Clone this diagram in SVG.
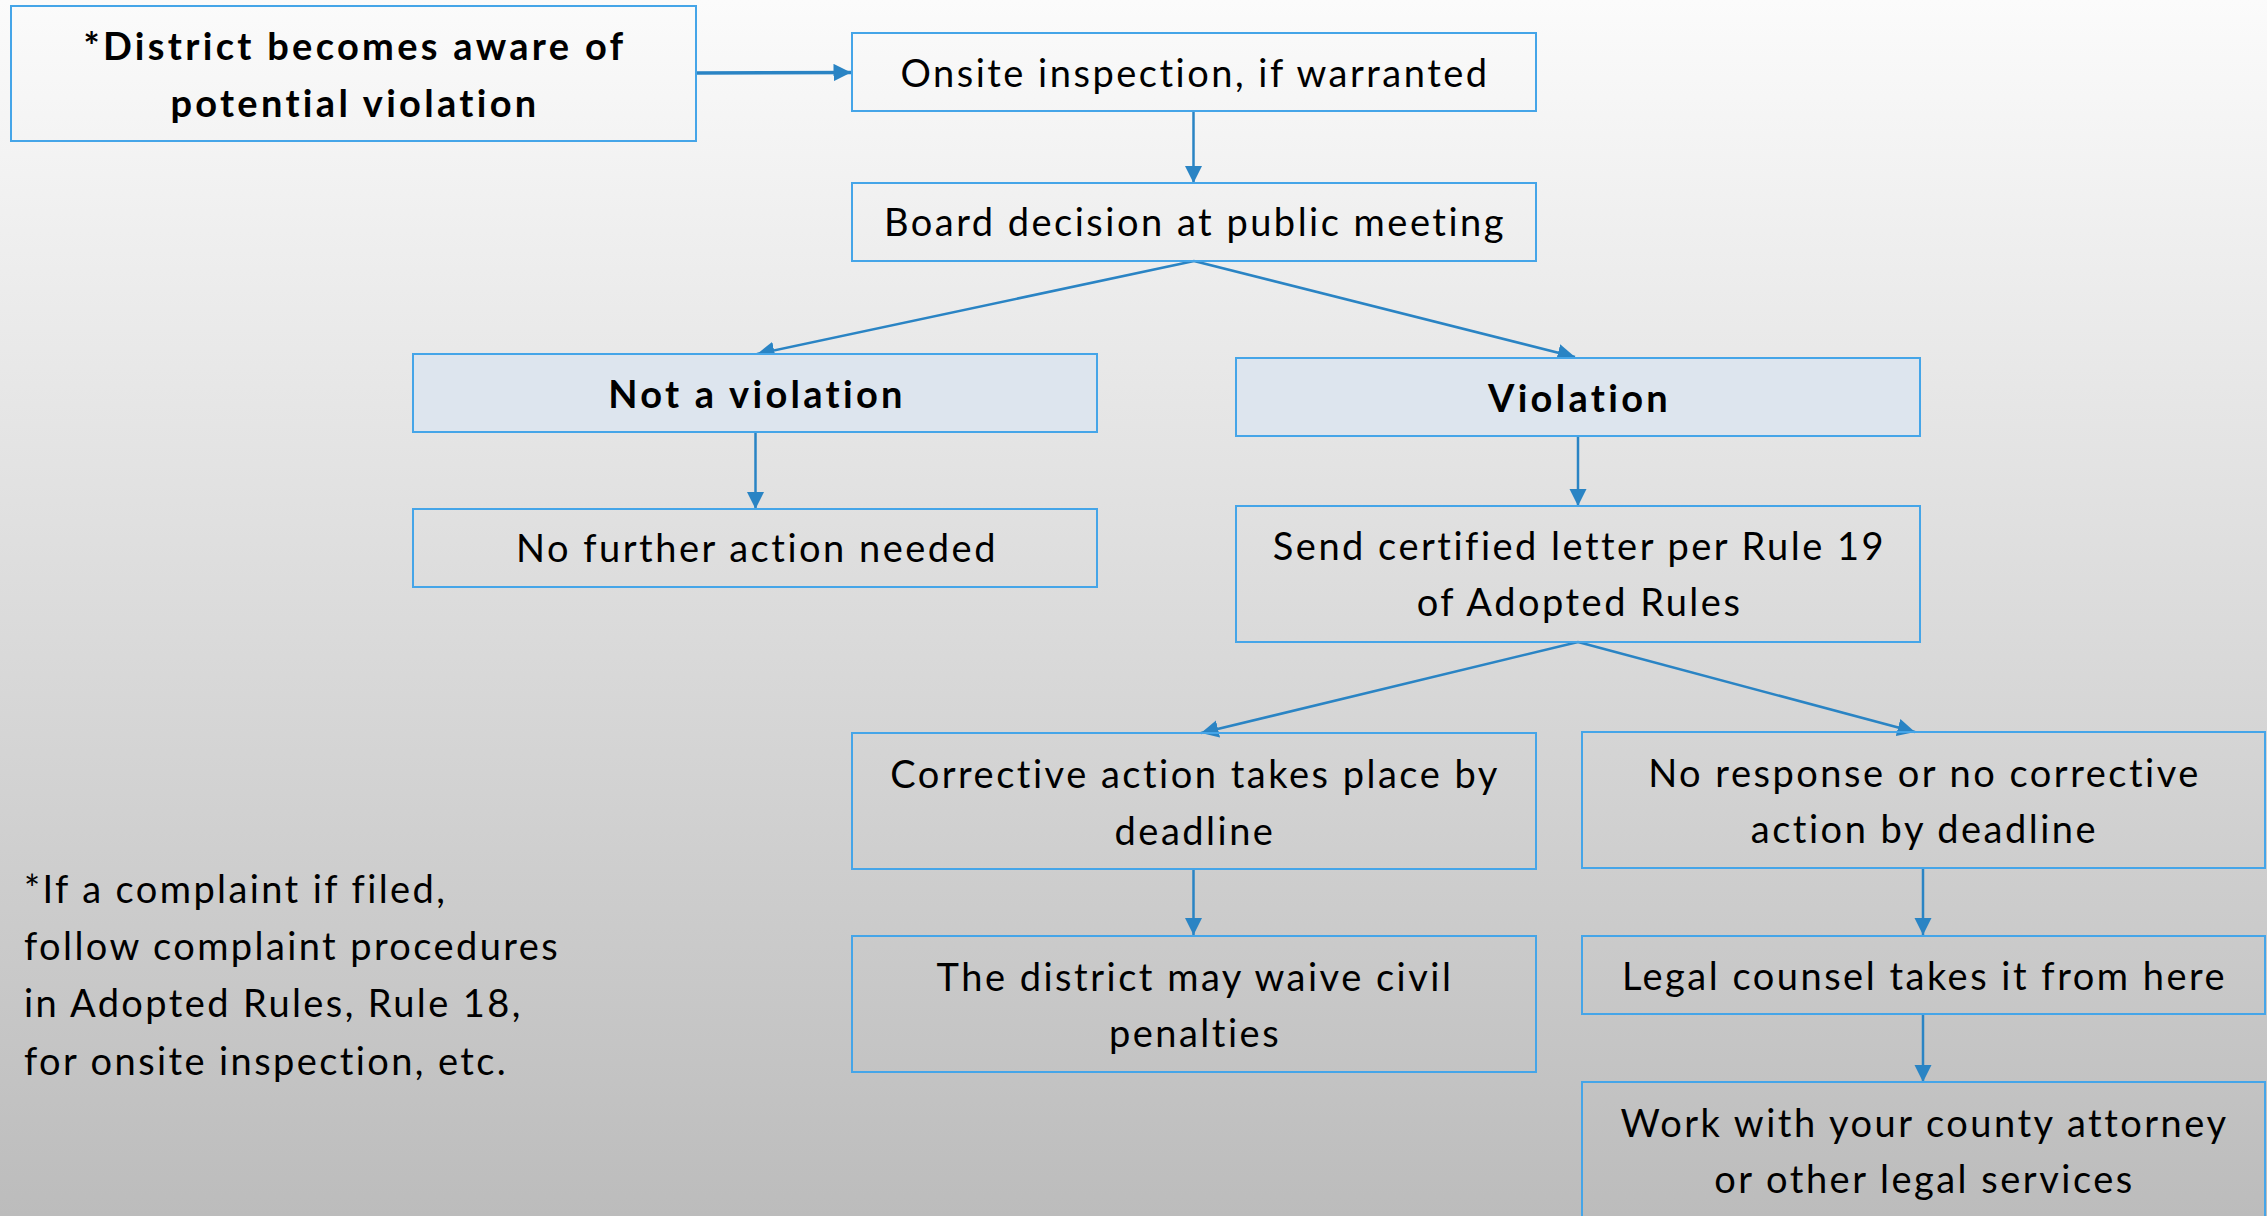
<svg xmlns="http://www.w3.org/2000/svg" width="2267" height="1216" viewBox="0 0 2267 1216">
<defs>
<linearGradient id="bg" x1="0" y1="0" x2="0" y2="1">
<stop offset="0" stop-color="#FBFBFB"/>
<stop offset="1" stop-color="#BCBCBC"/>
</linearGradient>
<marker id="ah" viewBox="0 0 10 10" refX="10" refY="5" markerWidth="5" markerHeight="5" orient="auto" markerUnits="strokeWidth">
<path d="M0,0 L10,5 L0,10 z" fill="#2A84C4"/>
</marker>
<marker id="ah2" viewBox="0 0 10 10" refX="10" refY="5" markerWidth="7" markerHeight="7" orient="auto" markerUnits="strokeWidth">
<path d="M0,0 L10,5 L0,10 z" fill="#2A84C4"/>
</marker>
</defs>
<style>
.box{fill:none;stroke:#45A5E8;stroke-width:2}
.hbox{fill:#DDE5EE;stroke:#45A5E8;stroke-width:2}
.t{font-family:Lato,"Liberation Sans",sans-serif;font-size:38px;fill:#000;text-anchor:middle;letter-spacing:2.5px}
.b{font-weight:bold;letter-spacing:3.3px}
.n{font-family:Lato,"Liberation Sans",sans-serif;font-size:38px;fill:#000;letter-spacing:2.4px}
.c{stroke:#2A84C4;stroke-width:2.5;fill:none;marker-end:url(#ah2)}
.c3{stroke:#2A84C4;stroke-width:3.5;fill:none;marker-end:url(#ah)}
</style>
<rect width="2267" height="1216" fill="url(#bg)"/>

<g id="connectors">
<line class="c3" x1="696" y1="73" x2="851" y2="72.5"/>
<line class="c" x1="1193.5" y1="111" x2="1193.5" y2="183"/>
<line class="c" x1="1194" y1="261" x2="757" y2="354"/>
<line class="c" x1="1194" y1="261" x2="1575" y2="357"/>
<line class="c" x1="755.5" y1="432" x2="755.5" y2="509"/>
<line class="c" x1="1578" y1="436" x2="1578" y2="506"/>
<line class="c" x1="1578" y1="642" x2="1201" y2="733"/>
<line class="c" x1="1578" y1="642" x2="1915" y2="732"/>
<line class="c" x1="1193.5" y1="870" x2="1193.5" y2="935"/>
<line class="c" x1="1923" y1="869" x2="1923" y2="935"/>
<line class="c" x1="1923" y1="1014" x2="1923" y2="1082"/>
</g>

<g id="district">
<rect class="box" x="11" y="6" width="685" height="135"/>
<text class="t b" x="355" y="60">*District becomes aware of</text>
<text class="t b" x="355" y="117">potential violation</text>
</g>

<g id="onsite">
<rect class="box" x="852" y="33" width="684" height="78"/>
<text class="t" x="1195" y="87">Onsite inspection, if warranted</text>
</g>

<g id="board">
<rect class="box" x="852" y="183" width="684" height="78"/>
<text class="t" x="1195" y="236">Board decision at public meeting</text>
</g>

<g id="not-violation">
<rect class="hbox" x="413" y="354" width="684" height="78"/>
<text class="t b" x="757" y="408">Not a violation</text>
</g>

<g id="violation">
<rect class="hbox" x="1236" y="358" width="684" height="78"/>
<text class="t b" x="1579.5" y="412">Violation</text>
</g>

<g id="no-further">
<rect class="box" x="413" y="509" width="684" height="78"/>
<text class="t" x="757" y="562">No further action needed</text>
</g>

<g id="send-letter">
<rect class="box" x="1236" y="506" width="684" height="136"/>
<text class="t" x="1579.5" y="560">Send certified letter per Rule 19</text>
<text class="t" x="1579.5" y="616">of Adopted Rules</text>
</g>

<g id="corrective">
<rect class="box" x="852" y="733" width="684" height="136"/>
<text class="t" x="1195" y="788">Corrective action takes place by</text>
<text class="t" x="1195" y="845">deadline</text>
</g>

<g id="no-response">
<rect class="box" x="1582" y="732" width="683" height="136"/>
<text class="t" x="1924.5" y="787">No response or no corrective</text>
<text class="t" x="1924.5" y="843">action by deadline</text>
</g>

<g id="waive">
<rect class="box" x="852" y="936" width="684" height="136"/>
<text class="t" x="1195" y="991">The district may waive civil</text>
<text class="t" x="1195" y="1047">penalties</text>
</g>

<g id="legal">
<rect class="box" x="1582" y="936" width="683" height="78"/>
<text class="t" x="1924.5" y="990">Legal counsel takes it from here</text>
</g>

<g id="work">
<rect class="box" x="1582" y="1082" width="683" height="160"/>
<text class="t" x="1924.5" y="1137">Work with your county attorney</text>
<text class="t" x="1924.5" y="1193">or other legal services</text>
</g>

<g id="footnote">
<text class="n" x="24" y="903">*If a complaint if filed,</text>
<text class="n" x="24" y="960">follow complaint procedures</text>
<text class="n" x="24" y="1017">in Adopted Rules, Rule 18,</text>
<text class="n" x="24" y="1075">for onsite inspection, etc.</text>
</g>
</svg>
